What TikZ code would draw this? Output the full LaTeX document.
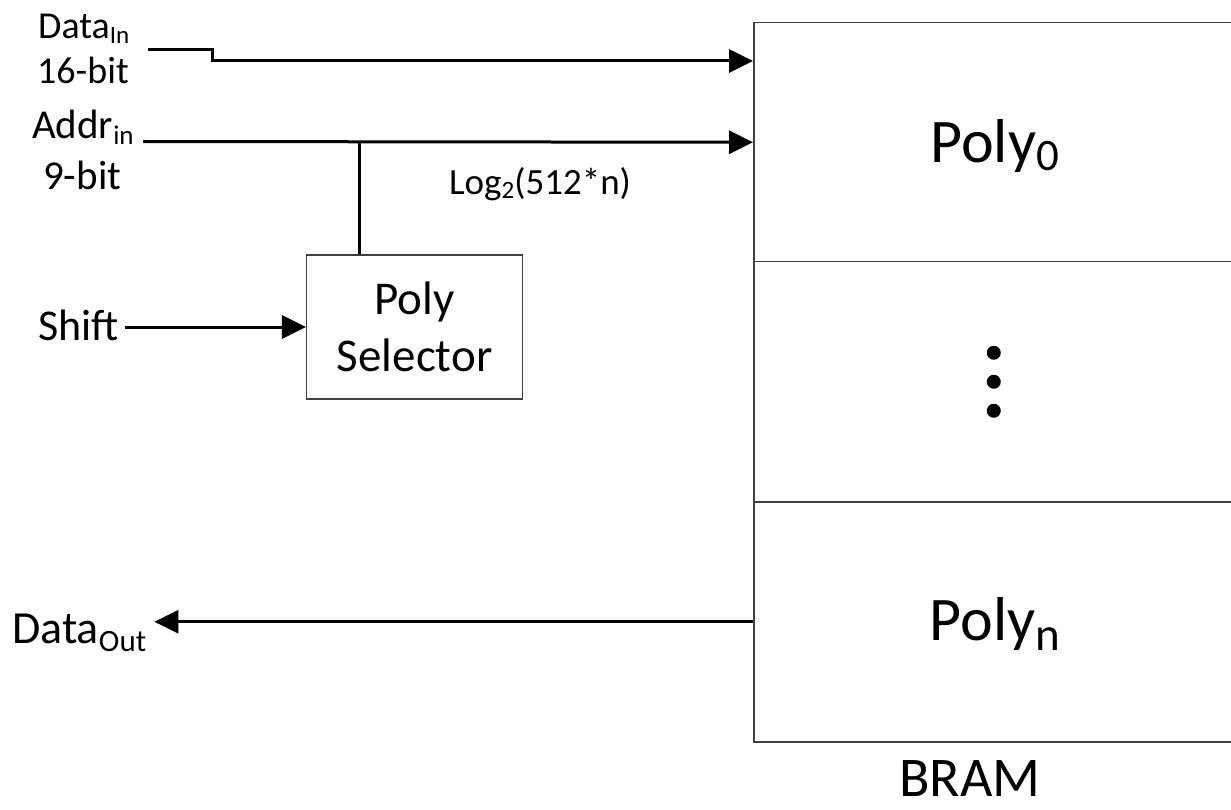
\documentclass[tikz,border=0pt]{standalone}
\usepackage{fontspec}
\setmainfont{Carlito}
\usetikzlibrary{arrows.meta}
% subscript: size, text, drop below the baseline
\newcommand{\subtxt}[3]{\raisebox{-#3}{\fontsize{#1}{#1}\selectfont #2}}
\begin{document}
\begin{tikzpicture}[x=1pt,y=-1pt,
  wire/.style={line width=3pt, draw=black},
  sig/.style={wire, -{Triangle[length=24pt,width=23pt]}},
  frame/.style={draw=black!75, line width=1.5pt},
  slotbox/.style={frame, rectangle, minimum width=482pt, anchor=north west, inner sep=0pt},
  lblsmall/.style={inner sep=0pt, font=\fontsize{38}{45}\selectfont},
  lbladdr/.style={inner sep=0pt, font=\fontsize{41}{48}\selectfont},
  lblmid/.style={inner sep=0pt, font=\fontsize{44}{56.7}\selectfont},
  lblbig/.style={inner sep=0pt, font=\fontsize{62}{72}\selectfont},
]
\clip (0,0) rectangle (1231,810);
\fill[white] (0,0) rectangle (1231,810);

% BRAM made of three stacked slots
\node[slotbox, minimum height=239pt] (slot0) at (753,22) {};
\node[slotbox, minimum height=240pt] (slotdots) at (753,261) {};
\node[slotbox, minimum height=240pt] (slotn) at (753,501) {};

\node[lblbig, anchor=base] (poly0) at ([yshift=-20.5pt]slot0.center) {Poly\subtxt{45}{0}{8pt}};
\node[lblbig, anchor=base] (polyn) at ([yshift=-19pt]slotn.center) {Poly\subtxt{47}{n}{10pt}};
\foreach \dy in {-29,0,29}
  \fill (slotdots.center) ++(-1,\dy) circle (7pt);
\node[lblbig, font=\fontsize{56}{66}\selectfont, anchor=base] (bram) at (970,796) {BRAM};

% poly selector
\node[frame, rectangle, minimum width=216pt, minimum height=144pt, align=center,
      inner sep=0pt, font=\fontsize{47}{56.7}\selectfont] (sel) at (414.7,327) {Poly\\Selector};

% input labels
\node[lblsmall, anchor=base west] (dinlbl) at (38,38.3) {Data\subtxt{25}{In}{5pt}};
\node[lblsmall, anchor=base west] (dinw) at (37,83.3) {16-bit};
\node[lbladdr, anchor=base west] (ainlbl) at (32,139) {Addr\subtxt{27}{in}{6pt}};
\node[lbladdr, anchor=base west] (ainw) at (43,190) {9-bit};
\node[lblsmall, font=\fontsize{37}{44}\selectfont, anchor=base west] (loglbl) at (449,195) {Log\subtxt{25}{2}{3.5pt}(512*n)};
\node[lblmid, anchor=base west] (shift) at (38,340) {Shift};
\node[lblmid, font=\fontsize{46}{54}\selectfont, anchor=base west] (dout) at (12,643) {Data\subtxt{31}{Out}{8.5pt}};

% connectors
\coordinate (din) at (148,50);
\coordinate (dinjog) at (212,61);
\draw[sig] (din) -| (dinjog) -- (dinjog -| slot0.west);

\coordinate (ain) at (143,141.5);
\draw[sig] (ain) -- (slot0.west);
\coordinate (tap) at (359,141.5);
\draw[wire] (tap) -- (tap |- sel.north);

\coordinate (shiftend) at ([xshift=6pt]shift.east);
\draw[sig] (sel.west -| shiftend) -- (sel.west);

\coordinate (douttip) at ([xshift=8pt]dout.east);
\draw[sig] (slotn.west) -- (slotn.west -| douttip);
\end{tikzpicture}
\end{document}
